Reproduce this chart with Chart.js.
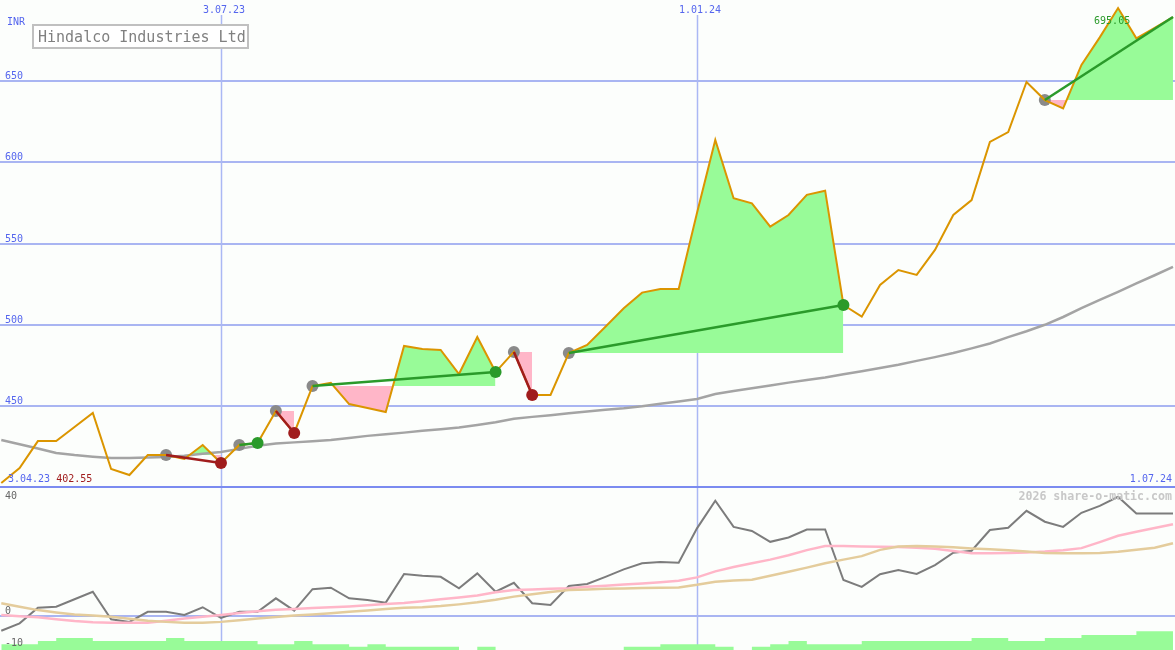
<!DOCTYPE html>
<html>
<head>
<meta charset="utf-8">
<script src="https://cdn.jsdelivr.net/npm/chart.js@4.4.1/dist/chart.umd.min.js"></script>
<style>
html, body { margin: 0; padding: 0; background: #fcfefc; }
canvas { display: block; }
</style>
</head>
<body>
<canvas id="hindalcoChart" width="1175" height="650"></canvas>
<script>
// week numbers, counted from 3.07.23 (= week 0)
var weeks = [];
for (var w = -12; w <= 52; w++) weeks.push(w);

// weekly close, INR
var price = [402.55, 411.8, 428.4, 428.4, 437.1, 445.7, 411.2, 407.5, 419.8, 419.8, 417.4, 426.0,
  414.9, 426.0, 427.2, 446.9, 433.4, 462.3, 464.2, 451.2, 448.8, 446.3,
  487.0, 485.1, 484.5, 469.7, 492.5, 470.9, 483.3, 456.8, 456.8, 482.6,
  487.6, 498.8, 510.2, 519.8, 522.0, 522.0, 568.8, 613.8, 577.9, 574.8,
  560.4, 567.6, 580.0, 582.6, 512.2, 505.0, 524.5, 533.7, 530.7, 546.1,
  567.6, 576.8, 612.6, 618.7, 649.5, 638.4, 633.3, 660.0, 677.0, 695.05,
  676.4, 682.8, 689.5];

// long moving average
var priceAvg = [429.1, 426.5, 423.8, 421.1, 419.8, 418.8, 418.0, 418.0, 418.3, 418.6, 419.3, 420.6,
  421.7, 423.6, 425.5, 426.9, 427.6, 428.3, 429.0, 430.3, 431.6, 432.6,
  433.6, 434.7, 435.7, 436.8, 438.3, 440.0, 442.1, 443.3, 444.3, 445.5,
  446.6, 447.7, 448.6, 449.8, 451.4, 452.8, 454.3, 457.4, 459.2, 460.9,
  462.6, 464.4, 466.0, 467.6, 469.5, 471.4, 473.4, 475.4, 477.8, 480.1,
  482.6, 485.5, 488.5, 492.4, 496.0, 500.0, 504.8, 510.2, 515.3, 520.3,
  525.5, 530.5, 535.7];

// lower panel indicator and its two averages
var momentum = [-5.3, -2.7, 2.7, 3.1, 5.7, 8.3, -1.3, -2.2, 1.3, 1.3, 0.2, 2.9,
  -0.8, 1.3, 1.3, 6.0, 1.7, 9.2, 9.7, 6.0, 5.4, 4.5,
  14.5, 13.9, 13.5, 9.5, 14.7, 8.3, 11.4, 4.3, 3.7, 10.3,
  11.0, 13.5, 16.1, 18.2, 18.7, 18.4, 30.4, 40.0, 30.9, 29.5,
  25.7, 27.2, 30.0, 30.0, 12.4, 10.0, 14.4, 15.9, 14.5, 17.6,
  21.9, 22.6, 29.8, 30.6, 36.5, 32.7, 30.9, 35.8, 38.2, 41.4,
  35.6, 35.6, 35.6];
var momentumFast = [0.2, -0.2, -0.6, -1.3, -1.9, -2.3, -2.5, -2.5, -2.5, -1.8, -1.0, -0.4,
  0.2, 0.9, 1.5, 2.0, 2.3, 2.6, 2.9, 3.2, 3.6, 4.0,
  4.4, 5.0, 5.7, 6.3, 7.0, 8.1, 8.9, 9.1, 9.3, 9.5,
  10.0, 10.4, 10.8, 11.2, 11.6, 12.1, 13.3, 15.4, 16.9, 18.2,
  19.5, 21.0, 22.8, 24.2, 24.2, 24.1, 24.0, 23.9, 23.6, 23.3,
  22.5, 21.7, 21.7, 21.8, 22.0, 22.3, 22.8, 23.5, 25.6, 27.8,
  29.2, 30.5, 31.8];
var momentumSlow = [4.3, 3.1, 1.9, 1.1, 0.4, 0.0, -0.4, -1.1, -1.8, -2.2, -2.5, -2.5,
  -2.2, -1.6, -1.0, -0.5, 0.0, 0.4, 0.8, 1.3, 1.8, 2.3,
  2.7, 2.9, 3.3, 3.9, 4.6, 5.5, 6.6, 7.4, 8.2, 8.9,
  9.1, 9.3, 9.4, 9.6, 9.7, 9.8, 10.7, 11.8, 12.2, 12.5,
  13.9, 15.3, 16.7, 18.2, 19.5, 20.7, 22.9, 24.1, 24.2, 24.1,
  23.8, 23.4, 23.1, 22.8, 22.3, 21.8, 21.7, 21.7, 21.8, 22.2,
  22.9, 23.6, 25.2];

// weekly volume, millions
var volume = [18, 18, 18, 28, 37, 37, 28, 28, 28, 28, 37, 28,
  28, 28, 28, 18, 18, 28, 18, 18, 10, 18,
  10, 10, 10, 10, 0, 10, 0, 0, 0, 0,
  0, 0, 0, 10, 10, 18, 18, 18, 10, 0,
  10, 18, 28, 18, 18, 18, 28, 28, 28, 28,
  28, 28, 37, 37, 28, 28, 37, 37, 46, 46,
  46, 58, 58];

// signals: entry week, exit week (last one still open)
var tradeEntry = [-3, 1, 3, 5, 16, 19, 45];
var tradeExit = [0, 2, 4, 15, 17, 34, 52];
var tradeOpen = [false, false, false, false, false, false, true];

var priceTicks = [450, 500, 550, 600, 650];
var lowerTicks = [40, 0, -10];
var dateTicks = [0, 26];
var dateLabels = ['3.07.23', '1.01.24'];
var firstDate = '3.04.23';
var lastDate = '1.07.24';

var GREEN = '#2a9a2a', RED = '#a01c1c', GREY = '#8a8a8a';
var FILL_UP = '#98fb98', FILL_DOWN = '#ffb6c8';
var BLUE_TXT = '#5566ee';
var MONO = '"DejaVu Sans Mono", monospace';

function priceAt(week) { return price[weeks.indexOf(week)]; }
function series(values) { return weeks.map(function (w, k) { return { x: w, y: values[k] }; }); }

var datasets = [];

// exit markers
var exits = [], exitColors = [];
tradeEntry.forEach(function (e, t) {
  if (tradeOpen[t]) return;
  var win = priceAt(tradeExit[t]) >= priceAt(e);
  exits.push({ x: tradeExit[t], y: priceAt(tradeExit[t]) });
  exitColors.push(win ? GREEN : RED);
});
datasets.push({ data: exits, showLine: false, pointRadius: 6, pointBorderWidth: 0,
  pointBackgroundColor: exitColors, order: 0 });

// entry -> exit lines and shaded areas
tradeEntry.forEach(function (e, t) {
  var x = tradeExit[t];
  var win = priceAt(x) >= priceAt(e);
  datasets.push({ data: [{ x: e, y: priceAt(e) }, { x: x, y: priceAt(x) }],
    borderColor: win ? GREEN : RED, borderWidth: 2.5, pointRadius: 0, order: 1 });
  var part = [];
  for (var w = e; w <= x; w++) part.push({ x: w, y: priceAt(w) });
  datasets.push({ data: part, borderWidth: 0, borderColor: 'rgba(0,0,0,0)', pointRadius: 0,
    fill: { target: { value: priceAt(e) }, above: FILL_UP, below: FILL_DOWN }, order: 5 });
});

datasets.push({ data: series(price), borderColor: '#db9500', borderWidth: 2, pointRadius: 0, order: 2 });

datasets.push({ data: tradeEntry.map(function (e) { return { x: e, y: priceAt(e) }; }),
  showLine: false, pointRadius: 6, pointBorderWidth: 0, pointBackgroundColor: GREY, order: 3 });

datasets.push({ data: series(priceAvg), borderColor: '#a4a4a4', borderWidth: 2.5, pointRadius: 0, order: 4 });

datasets.push({ data: series(momentumSlow), yAxisID: 'y2', borderColor: '#e4cc9c', borderWidth: 2.5, pointRadius: 0, order: 6 });
datasets.push({ data: series(momentumFast), yAxisID: 'y2', borderColor: '#ffb6c8', borderWidth: 2.5, pointRadius: 0, order: 6 });
datasets.push({ data: series(momentum), yAxisID: 'y2', borderColor: '#7c7c7c', borderWidth: 2, pointRadius: 0, order: 6 });

datasets.push({ data: series(volume), yAxisID: 'yv', stepped: 'after', borderWidth: 0,
  borderColor: 'rgba(0,0,0,0)', pointRadius: 0, fill: 'origin', backgroundColor: FILL_UP, order: 7 });

var sheet = {
  id: 'sheet',
  beforeDraw: function (chart) {
    var ctx = chart.ctx;
    ctx.save();
    ctx.fillStyle = '#fcfefc';
    ctx.fillRect(0, 0, chart.width, chart.height);
    ctx.restore();
  },
  beforeDatasetsDraw: function (chart) {
    var ctx = chart.ctx, sx = chart.scales.x, sy = chart.scales.y, sy2 = chart.scales.y2;
    var W = chart.width;
    ctx.save();
    ctx.lineWidth = 2;
    ctx.strokeStyle = '#a9b5f2';
    priceTicks.forEach(function (v) {
      var py = Math.round(sy.getPixelForValue(v));
      ctx.beginPath(); ctx.moveTo(0, py); ctx.lineTo(W, py); ctx.stroke();
    });
    var z = Math.round(sy2.getPixelForValue(0));
    ctx.beginPath(); ctx.moveTo(0, z); ctx.lineTo(W, z); ctx.stroke();
    ctx.lineWidth = 1.5;
    ctx.strokeStyle = '#aab8f4';
    dateTicks.forEach(function (d) {
      var px = Math.round(sx.getPixelForValue(d)) + 0.5;
      ctx.beginPath(); ctx.moveTo(px, 15); ctx.lineTo(px, chart.height); ctx.stroke();
    });
    ctx.lineWidth = 2;
    ctx.strokeStyle = '#7b8bf0';
    var b = Math.round(sy.getPixelForValue(400));
    ctx.beginPath(); ctx.moveTo(0, b); ctx.lineTo(W, b); ctx.stroke();
    ctx.restore();
  },
  afterDatasetsDraw: function (chart) {
    var ctx = chart.ctx, sx = chart.scales.x, sy = chart.scales.y, sy2 = chart.scales.y2;
    ctx.save();
    ctx.font = '10px ' + MONO;
    ctx.textBaseline = 'alphabetic';
    ctx.fillStyle = BLUE_TXT;
    ctx.textAlign = 'left';
    ctx.fillText('INR', 7, 25);
    priceTicks.forEach(function (v) {
      ctx.fillText(String(v), 5, Math.round(sy.getPixelForValue(v)) - 2);
    });
    ctx.textAlign = 'center';
    dateTicks.forEach(function (d, k) {
      ctx.fillText(dateLabels[k], sx.getPixelForValue(d) + 3, 13);
    });
    ctx.textAlign = 'left';
    ctx.fillText(firstDate, 8, 482);
    var off = ctx.measureText(firstDate + ' ').width;
    ctx.fillStyle = RED;
    ctx.fillText(price[0].toFixed(2), 8 + off, 482);
    ctx.fillStyle = BLUE_TXT;
    ctx.textAlign = 'right';
    ctx.fillText(lastDate, 1172, 482);

    ctx.textAlign = 'left';
    ctx.fillStyle = '#666';
    lowerTicks.forEach(function (v, k) {
      var py = Math.round(sy2.getPixelForValue(v));
      ctx.fillText(String(v), 5, k === lowerTicks.length - 1 ? py + 2 : py - 2);
    });

    // highest close
    var hi = Math.max.apply(null, price);
    var hw = weeks[price.indexOf(hi)];
    ctx.fillStyle = GREEN;
    ctx.fillText(hi.toFixed(2), sx.getPixelForValue(hw) - 24, sy.getPixelForValue(hi) + 16);

    ctx.font = 'bold 11.6px ' + MONO;
    ctx.fillStyle = '#c8c8c8';
    ctx.textAlign = 'right';
    ctx.fillText('2026 share-o-matic.com', 1172, 500);

    // title box
    ctx.fillStyle = '#ffffff';
    ctx.fillRect(33, 25, 215, 23);
    ctx.lineWidth = 2;
    ctx.strokeStyle = '#c0c0c0';
    ctx.strokeRect(33, 25, 215, 23);
    ctx.font = '15px ' + MONO;
    ctx.fillStyle = '#808080';
    ctx.textAlign = 'left';
    ctx.fillText('Hindalco Industries Ltd', 38, 42);
    ctx.restore();
  }
};

new Chart(document.getElementById('hindalcoChart').getContext('2d'), {
  type: 'line',
  data: { datasets: datasets },
  options: {
    responsive: false,
    animation: false,
    events: [],
    layout: { padding: 0, autoPadding: false },
    plugins: { legend: { display: false }, tooltip: { enabled: false } },
    scales: {
      x: { type: 'linear', min: -12.07, max: 52.11, display: false },
      y: { min: 299.75, max: 700, display: false },
      y2: { min: -12, max: 214.5, display: false },
      yv: { min: 0, max: 2000, display: false }
    }
  },
  plugins: [sheet]
});
</script>
</body>
</html>
